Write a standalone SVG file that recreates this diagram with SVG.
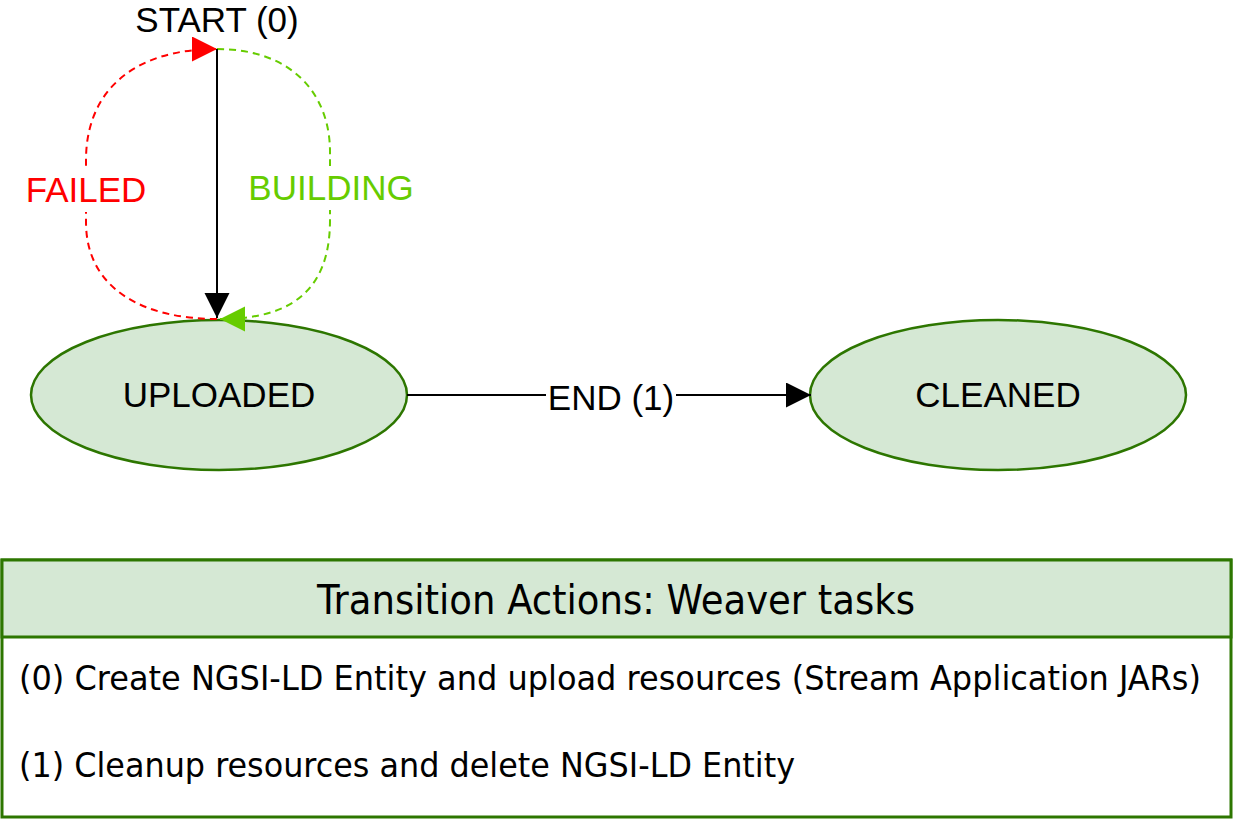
<svg xmlns="http://www.w3.org/2000/svg" width="1236" height="828" viewBox="0 0 1236 828">
<style>
.state{fill:#D5E8D4;stroke:#2D7600;stroke-width:2.5}
.lbl{font-family:"Liberation Sans",Arial,sans-serif;font-size:35px;text-anchor:middle;fill:#000}
.tbl{font-family:"DejaVu Sans Condensed","DejaVu Sans",sans-serif;fill:#000}
.edge{fill:none;stroke-width:2}
</style>
<defs>
<marker id="ab" markerUnits="userSpaceOnUse" markerWidth="26" markerHeight="26" refX="25" refY="12.5" orient="auto" viewBox="0 0 26 26"><path d="M0,0 L25,12.5 L0,25 z" fill="#000"/></marker>
<marker id="ar" markerUnits="userSpaceOnUse" markerWidth="26" markerHeight="26" refX="25" refY="12.5" orient="auto" viewBox="0 0 26 26"><path d="M0,0 L25,12.5 L0,25 z" fill="#FF0000"/></marker>
<marker id="ag" markerUnits="userSpaceOnUse" markerWidth="26" markerHeight="26" refX="25" refY="12.5" orient="auto" viewBox="0 0 26 26"><path d="M0,0 L25,12.5 L0,25 z" fill="#66CC00"/></marker>
</defs>
<rect width="1236" height="828" fill="#fff"/>
<g id="n-uploaded">
<ellipse class="state" cx="219" cy="395" rx="188" ry="75"/>
<text x="219" y="407" class="lbl">UPLOADED</text>
</g>
<g id="n-cleaned">
<ellipse class="state" cx="998" cy="395" rx="188" ry="75"/>
<text x="998" y="407" class="lbl">CLEANED</text>
</g>
<g id="connectors">
<g id="e-failed">
<path class="edge" d="M217,319 C145,319 86,290 86,222 L86,160 C86,94 130,49 217,49" stroke="#FF0000" stroke-dasharray="7 5" marker-end="url(#ar)"/>
<rect x="22" y="168" width="128" height="44" fill="#fff"/>
<text x="86" y="202" class="lbl" style="fill:#FF0000">FAILED</text>
</g>
<g id="e-building">
<path class="edge" d="M217,49 C292,49 330,94 330,152 L330,220 C330,290 292,319 220,319" stroke="#66CC00" stroke-dasharray="7 5" marker-end="url(#ag)"/>
<rect x="244" y="166" width="174" height="44" fill="#fff"/>
<text x="331" y="200" class="lbl" style="fill:#66CC00">BUILDING</text>
</g>
<g id="e-start">
<path class="edge" d="M217,49 L217,318" stroke="#000" marker-end="url(#ab)"/>
<text x="217" y="32" class="lbl">START (0)</text>
</g>
<g id="e-end">
<path class="edge" d="M407,395 L811,395" stroke="#000" marker-end="url(#ab)"/>
<rect x="546" y="380" width="130" height="36" fill="#fff"/>
<text x="611" y="410" class="lbl">END (1)</text>
</g>
</g>
<g id="n-table">
<rect x="2" y="560" width="1229" height="257" fill="#fff" stroke="#2D7600" stroke-width="3"/>
<rect x="2" y="560" width="1229" height="77" fill="#D5E8D4" stroke="#2D7600" stroke-width="3"/>
<text x="317" y="614" class="tbl" font-size="40" textLength="598" lengthAdjust="spacingAndGlyphs">Transition Actions: Weaver tasks</text>
<text x="19" y="690" class="tbl" font-size="34" textLength="1182" lengthAdjust="spacingAndGlyphs">(0) Create NGSI-LD Entity and upload resources (Stream Application JARs)</text>
<text x="19" y="777" class="tbl" font-size="34" textLength="776" lengthAdjust="spacingAndGlyphs">(1) Cleanup resources and delete NGSI-LD Entity</text>
</g>
</svg>
